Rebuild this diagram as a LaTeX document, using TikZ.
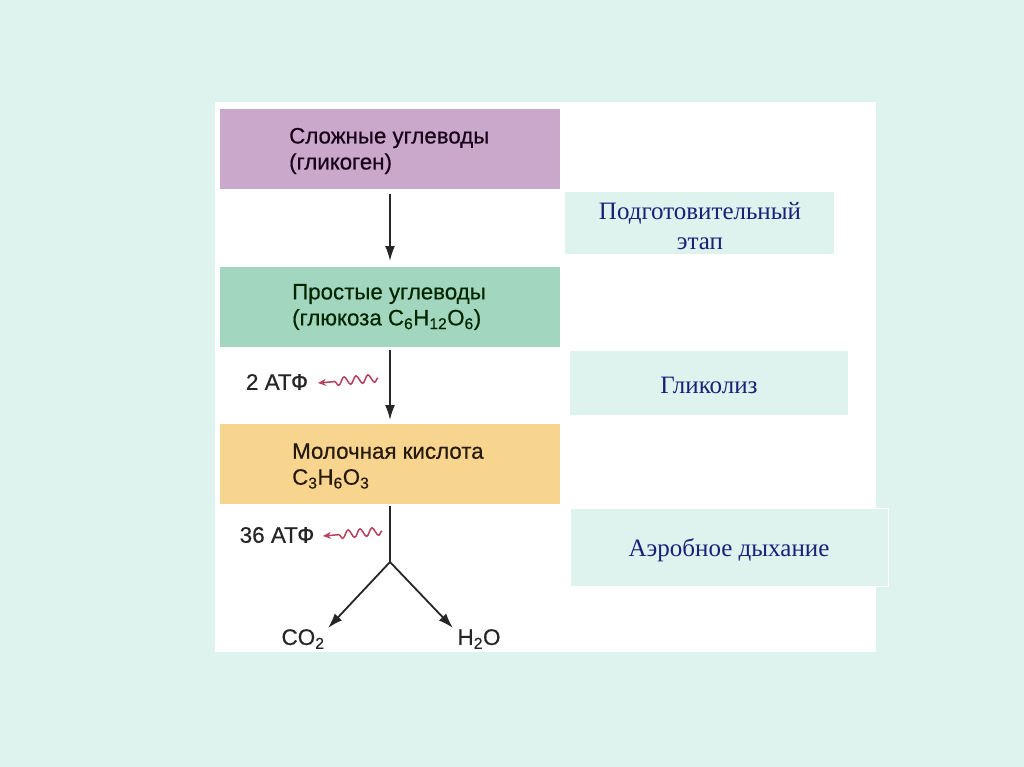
\documentclass[tikz,border=0pt]{standalone}
\usepackage{fontspec}
\setmainfont{Liberation Serif}
\setsansfont[FakeBold=0.5]{Liberation Sans}
\usetikzlibrary{arrows.meta,decorations.pathmorphing}
\definecolor{bgmint}{HTML}{DEF3EE}
\definecolor{boxpurple}{HTML}{C9A8CC}
\definecolor{boxgreen}{HTML}{A2D6BF}
\definecolor{boxorange}{HTML}{F7D58E}
\definecolor{navy}{HTML}{1C1E78}
\definecolor{wavered}{HTML}{B8405E}
\begin{document}
\begin{tikzpicture}[x=1pt,y=-1pt,
  stagebox/.style={fill=#1,draw=none,minimum width=340pt,minimum height=80pt,inner sep=0pt,anchor=north west},
  stagetext/.style={font=\sffamily\fontsize{22.3}{26}\selectfont,text=#1,align=left,anchor=west,inner sep=0pt},
  phasebox/.style={fill=bgmint,draw=none,inner sep=0pt,anchor=north west},
  phasetext/.style={font=\rmfamily\fontsize{25}{30}\selectfont,text=navy,align=center,inner sep=0pt},
  lbl/.style={font=\sffamily\fontsize{22.5}{26}\selectfont,text=black!85,inner sep=0pt},
  flow/.style={line width=1.8pt,black!85,-{Latex[length=15pt,width=10pt]}},
  plain/.style={line width=1.8pt,black!85},
  wavy/.style={wavered,line width=1.5pt,decorate,decoration={snake,amplitude=4pt,segment length=12pt,post length=13pt},-{Stealth[length=8pt,width=7pt]}}
]
\fill[bgmint] (0,0) rectangle (1024,767);
\useasboundingbox (0,0) rectangle (1024,767);
\fill[white] (215,102) rectangle (876,652);

% left stage boxes
\node[stagebox=boxpurple] (b1) at (220,109) {};
\node[stagebox=boxgreen] (b2) at (220,267) {};
\node[stagebox=boxorange] (b3) at (220,424) {};

\node[stagetext=black!80!violet] (t1) at (289,151) {Сложные углеводы\\(гликоген)};
\node[stagetext=black!75!green!60!black] (t2) at (292,307) {Простые углеводы\\(глюкоза C\textsubscript{6}H\textsubscript{12}O\textsubscript{6})};
\node[stagetext=black!80!brown] (t3) at (292,466) {Молочная кислота\\C\textsubscript{3}H\textsubscript{6}O\textsubscript{3}};

% right phase boxes
\node[phasebox,minimum width=269pt,minimum height=62pt] (p1) at (565,192) {};
\node[phasebox,minimum width=278pt,minimum height=64pt] (p2) at (570,351) {};
\node[phasebox,draw=white,line width=0.8pt,minimum width=318pt,minimum height=78pt] (p3) at (570,508) {};
\node[phasetext] (q1) at (700,226) {Подготовительный\\этап};
\node[phasetext] (q2) at (709,385) {Гликолиз};
\node[phasetext] (q3) at (729,550) {Аэробное дыхание};

% flow arrows
\coordinate (j) at (390,562);
\coordinate (a1s) at (390,194);
\coordinate (a1e) at (390,261);
\coordinate (a2s) at (390,350);
\coordinate (a2e) at (390,420);
\coordinate (a3s) at (390,506);
\coordinate (co2tip) at (328,628);
\coordinate (h2otip) at (453,628);
\draw[flow] (a1s) -- (a1e);
\draw[flow] (a2s) -- (a2e);
\draw[plain] (a3s) -- (j);
\draw[flow] (j) -- (co2tip);
\draw[flow] (j) -- (h2otip);

\node[lbl] (co2) at (303,639) {CO\textsubscript{2}};
\node[lbl] (h2o) at (479,639) {H\textsubscript{2}O};

% ATP labels and wavy arrows
\node[lbl] (atp1) at (277,382) {2 АТФ};
\node[lbl] (atp2) at (277,535) {36 АТФ};
\coordinate (w1s) at (378,378);
\coordinate (w1e) at (318,383);
\coordinate (w2s) at (382,531);
\coordinate (w2e) at (323,536);
\draw[wavy] (w1s) -- (w1e);
\draw[wavy] (w2s) -- (w2e);
\end{tikzpicture}
\end{document}
